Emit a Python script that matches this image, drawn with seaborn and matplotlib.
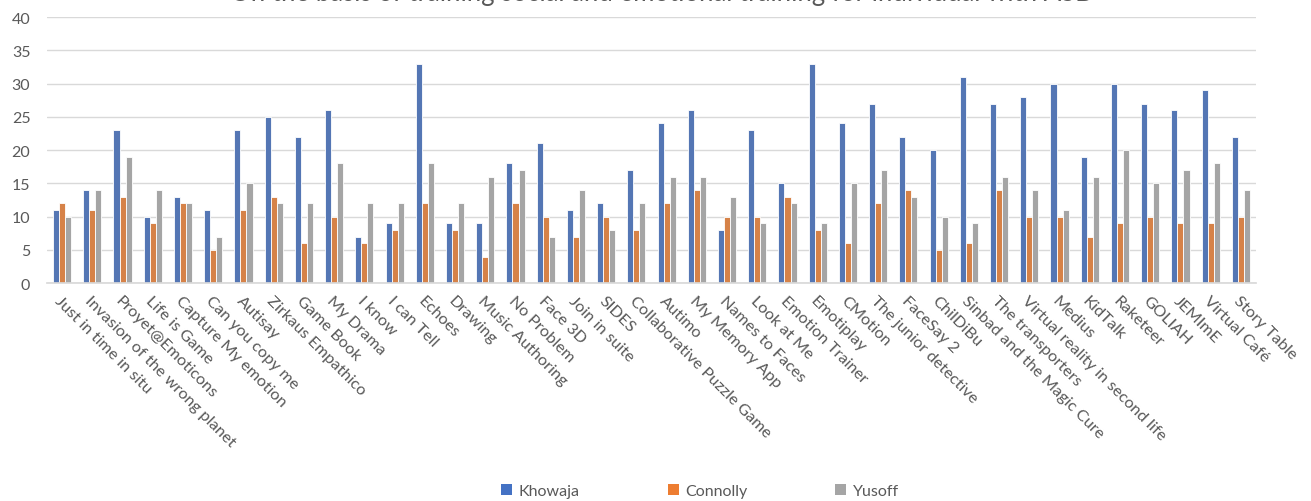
import matplotlib
matplotlib.use("Agg")
import matplotlib.pyplot as plt
import seaborn as sns
import pandas as pd
from matplotlib.patches import Patch

apps = ["Just in time in situ", "Invasion of the wrong planet", "Proyet@Emoticons", "Life is Game",
        "Capture My emotion", "Can you copy me", "Autisay", "Zirkaus Empathico", "Game Book", "My Drama",
        "I know", "I can Tell", "Echoes", "Drawing", "Music Authoring", "No Problem", "Face 3D",
        "Join in suite", "SIDES", "Collaborative Puzzle Game", "Autimo", "My Memory App", "Names to Faces",
        "Look at Me", "Emotion Trainer", "Emotiplay", "CMotion", "The junior detective", "FaceSay 2",
        "ChilDiBu", "Sinbad and the Magic Cure", "The transporters", "Virtual reality in second life",
        "Medius", "KidTalk", "Raketeer", "GOLIAH", "JEMImE", "Virtual Café", "Story Table"]
khowaja = [11, 14, 23, 10, 13, 11, 23, 25, 22, 26, 7, 9, 33, 9, 9, 18, 21, 11, 12, 17,
           24, 26, 8, 23, 15, 33, 24, 27, 22, 20, 31, 27, 28, 30, 19, 30, 27, 26, 29, 22]
connolly = [12, 11, 13, 9, 12, 5, 11, 13, 6, 10, 6, 8, 12, 8, 4, 12, 10, 7, 10, 8,
            12, 14, 10, 10, 13, 8, 6, 12, 14, 5, 6, 14, 10, 10, 7, 9, 10, 9, 9, 10]
yusoff = [10, 14, 19, 14, 12, 7, 15, 12, 12, 18, 12, 12, 18, 12, 16, 17, 7, 14, 8, 12,
          16, 16, 13, 9, 12, 9, 15, 17, 13, 10, 9, 16, 14, 11, 16, 20, 15, 17, 18, 14]
series_names = ["Khowaja", "Connolly", "Yusoff"]
colors = ["#4472C4", "#ED7D31", "#A5A5A5"]
title = "On the basis of training social and emotional training for individual with ASD"

df = pd.DataFrame({
    "App": apps * 3,
    "Score": khowaja + connolly + yusoff,
    "Study": [series_names[0]] * len(apps) + [series_names[1]] * len(apps) + [series_names[2]] * len(apps),
})

sns.set_theme(style="white")
plt.rcParams["font.family"] = ["Lato", "DejaVu Sans"]

fig = plt.figure(figsize=(13.11, 5.02), dpi=100)
ax = fig.add_axes([47 / 1311, 0.434, (1256 - 47) / 1311, 0.530])

sns.barplot(data=df, x="App", y="Score", hue="Study", palette=colors, width=0.6,
            edgecolor="white", linewidth=0.6, ax=ax, legend=False, errorbar=None)

ax.set_ylim(0, 40)
ax.set_yticks(range(0, 41, 5))
ax.set_xlim(-0.5, len(apps) - 0.5)
ax.grid(axis="y", color="#D9D9D9", linewidth=1)
ax.set_axisbelow(True)
for s in ["top", "right", "left"]:
    ax.spines[s].set_visible(False)
ax.spines["bottom"].set_color("#D9D9D9")
ax.set_xlabel("")
ax.set_ylabel("")
ax.tick_params(axis="both", length=0, colors="#595959", labelsize=11.5)
ax.tick_params(axis="y", pad=12)
ax.tick_params(axis="x", pad=7, labelsize=11.8)
ax.set_xticks(range(len(apps)))
ax.set_xticklabels(apps, rotation=-45, ha="left", rotation_mode="anchor")
for lab in ax.get_xticklabels():
    lab.set_color("#595959")

fig.text(662 / 1311, 1 - 1.5 / 502, title, ha="center", va="baseline", fontsize=18.5, color="#595959")

handles = [Patch(facecolor=c, edgecolor="none") for c in colors]
fig.legend(handles, series_names, loc="center", bbox_to_anchor=(700 / 1311, 1 - 492 / 502), ncol=3,
           frameon=False, fontsize=11.5, handlelength=0.7, handleheight=0.7, handletextpad=0.4,
           columnspacing=5.5, labelcolor="#595959")

fig.savefig("out.png", dpi=100)
